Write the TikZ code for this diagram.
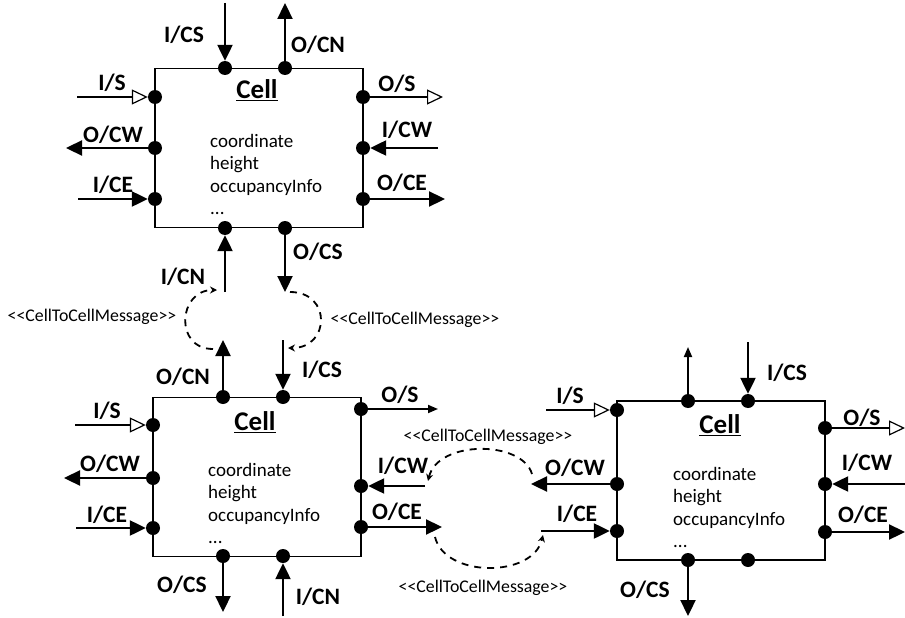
\documentclass[tikz,border=0pt]{standalone}
\usepackage{fontspec}
\setmainfont{Carlito}
\newfontfamily\msgfont{Carlito}
\usepackage{tikz}
\usetikzlibrary{arrows.meta}
\tikzset{
  cellbox/.style={draw, line width=1.2pt, minimum width=208pt, minimum height=159pt, inner sep=0},
  port/.style={circle, fill, inner sep=0, minimum size=14pt},
  plabel/.style={font=\fontsize{23.5}{26}\selectfont\bfseries, inner sep=0},
  ctitle/.style={font=\fontsize{27}{30}\selectfont\bfseries, inner sep=0},
  attrs/.style={font=\fontsize{19}{22.5}\selectfont, align=left, anchor=north west, inner sep=0},
  mlabel/.style={font=\msgfont\fontsize{17.8}{19}\selectfont, inner sep=0},
  arr/.style={line width=2.3pt, -{Triangle[length=16pt,width=15pt]}},
  oarr/.style={line width=1.8pt, -{Triangle[open,length=16pt,width=15pt,line width=1.2pt]}},
  sarr/.style={line width=1.8pt, -{Triangle[length=10pt,width=8pt]}},
  msg/.style={line width=1.8pt, dash pattern=on 7pt off 6pt, -{Stealth[length=7pt,width=7pt]}}
}
\begin{document}
\begin{tikzpicture}[x=1pt,y=-1pt]
   \useasboundingbox (0,0) rectangle (905,618);
   % upper cell
   \node[cellbox] (t) at (259,148) {};
   \node[ctitle] (tT) at (257,90) {\underline{Cell}};
   \node[attrs] (tA) at (210,134) {coordinate\\height\\occupancyInfo\\...};
   \node[port] (tN1) at (225,68) {};
   \node[port] (tN2) at (285,68) {};
   \node[port] (tW1) at (155,97) {};
   \node[port] (tW2) at (155,148) {};
   \node[port] (tW3) at (155,199) {};
   \node[port] (tE1) at (363,97) {};
   \node[port] (tE2) at (363,148) {};
   \node[port] (tE3) at (363,199) {};
   \node[port] (tS1) at (225,228) {};
   \node[port] (tS2) at (285,228) {};
   \coordinate (tN1x) at (225,3);
   \coordinate (tN2x) at (285,3);
   \coordinate (tW1x) at (77,97);
   \coordinate (tW2x) at (66,148);
   \coordinate (tW3x) at (78,199);
   \coordinate (tE1x) at (443,97);
   \coordinate (tE2x) at (438,148);
   \coordinate (tE3x) at (445,199);
   \coordinate (tS1x) at (225,292);
   \coordinate (tS2x) at (285,292);
   \draw[arr] (tN1x) -- (tN1);
   \draw[arr] (tN2) -- (tN2x);
   \draw[oarr] (tW1x) -- (tW1);
   \draw[arr] (tW2) -- (tW2x);
   \draw[arr] (tW3x) -- (tW3);
   \draw[oarr] (tE1) -- (tE1x);
   \draw[arr] (tE2x) -- (tE2);
   \draw[arr] (tE3) -- (tE3x);
   \draw[arr] (tS1x) -- (tS1);
   \draw[arr] (tS2) -- (tS2x);
   \node[plabel] (tLN1) at (184,35) {I/CS};
   \node[plabel] (tLN2) at (318,45) {O/CN};
   \node[plabel] (tLW1) at (112,83) {I/S};
   \node[plabel] (tLW2) at (113,135) {O/CW};
   \node[plabel] (tLW3) at (113,185) {I/CE};
   \node[plabel] (tLE1) at (397,84) {O/S};
   \node[plabel] (tLE2) at (407,130) {I/CW};
   \node[plabel] (tLE3) at (402,183) {O/CE};
   \node[plabel] (tLS1) at (183,277) {I/CN};
   \node[plabel] (tLS2) at (318,252) {O/CS};
   % lower left cell
   \node[cellbox] (l) at (257,477) {};
   \node[ctitle] (lT) at (255,422) {\underline{Cell}};
   \node[attrs] (lA) at (208,463) {coordinate\\height\\occupancyInfo\\...};
   \node[port] (lN1) at (223,397) {};
   \node[port] (lN2) at (283,397) {};
   \node[port] (lW1) at (153,425) {};
   \node[port] (lW2) at (153,478) {};
   \node[port] (lW3) at (153,528) {};
   \node[port] (lE1) at (361,409) {};
   \node[port] (lE2) at (361,486) {};
   \node[port] (lE3) at (361,527) {};
   \node[port] (lS1) at (223,556) {};
   \node[port] (lS2) at (283,556) {};
   \coordinate (lN1x) at (223,340);
   \coordinate (lN2x) at (283,340);
   \coordinate (lW1x) at (75,425);
   \coordinate (lW2x) at (64,478);
   \coordinate (lW3x) at (76,528);
   \coordinate (lE1x) at (438,409);
   \coordinate (lE2x) at (425,486);
   \coordinate (lE3x) at (442,527);
   \coordinate (lS1x) at (223,612);
   \coordinate (lS2x) at (283,616);
   \draw[arr] (lN1) -- (lN1x);
   \draw[arr] (lN2x) -- (lN2);
   \draw[oarr] (lW1x) -- (lW1);
   \draw[arr] (lW2) -- (lW2x);
   \draw[arr] (lW3x) -- (lW3);
   \draw[sarr] (lE1) -- (lE1x);
   \draw[arr] (lE2x) -- (lE2);
   \draw[arr] (lE3) -- (lE3x);
   \draw[arr] (lS1) -- (lS1x);
   \draw[arr] (lS2x) -- (lS2);
   \node[plabel] (lLN1) at (183,377) {O/CN};
   \node[plabel] (lLN2) at (322,370) {I/CS};
   \node[plabel] (lLW1) at (107,411) {I/S};
   \node[plabel] (lLW2) at (110,464) {O/CW};
   \node[plabel] (lLW3) at (107,515) {I/CE};
   \node[plabel] (lLE1) at (400,395) {O/S};
   \node[plabel] (lLE2) at (403,466) {I/CW};
   \node[plabel] (lLE3) at (397,512) {O/CE};
   \node[plabel] (lLS1) at (182,585) {O/CS};
   \node[plabel] (lLS2) at (318,597) {I/CN};
   % lower right cell
   \node[cellbox] (r) at (721,480.5) {};
   \node[ctitle] (rT) at (720,425) {\underline{Cell}};
   \node[attrs] (rA) at (673,467) {coordinate\\height\\occupancyInfo\\...};
   \node[port] (rN1) at (688,401) {};
   \node[port] (rN2) at (748,401) {};
   \node[port] (rW1) at (617,410) {};
   \node[port] (rW2) at (617,484) {};
   \node[port] (rW3) at (617,531) {};
   \node[port] (rE1) at (825,428) {};
   \node[port] (rE2) at (825,484) {};
   \node[port] (rE3) at (825,532) {};
   \node[port] (rS1) at (688,560) {};
   \node[port] (rS2) at (748,560) {};
   \coordinate (rN1x) at (688,347);
   \coordinate (rN2x) at (748,342);
   \coordinate (rW1x) at (546,410);
   \coordinate (rW2x) at (531,484);
   \coordinate (rW3x) at (541,531);
   \coordinate (rE1x) at (905,428);
   \coordinate (rE2x) at (905,484);
   \coordinate (rE3x) at (905,532);
   \coordinate (rS1x) at (688,616);
   \draw[sarr] (rN1) -- (rN1x);
   \draw[arr] (rN2x) -- (rN2);
   \draw[oarr] (rW1x) -- (rW1);
   \draw[arr] (rW2) -- (rW2x);
   \draw[arr] (rW3x) -- (rW3);
   \draw[oarr] (rE1) -- (rE1x);
   \draw[arr] (rE2x) -- (rE2);
   \draw[arr] (rE3) -- (rE3x);
   \draw[arr] (rS1) -- (rS1x);
   \node[plabel] (rLN2) at (787,373) {I/CS};
   \node[plabel] (rLW1) at (570,396) {I/S};
   \node[plabel] (rLW2) at (575,468) {O/CW};
   \node[plabel] (rLW3) at (577,514) {I/CE};
   \node[plabel] (rLE1) at (862,418) {O/S};
   \node[plabel] (rLE2) at (867,463) {I/CW};
   \node[plabel] (rLE3) at (863,515) {O/CE};
   \node[plabel] (rLS1) at (645,590) {O/CS};
   % messages
   \coordinate (m1a) at (213,349);
   \coordinate (m1b) at (217,290);
   \coordinate (m2a) at (290,292);
   \coordinate (m2b) at (288,348);
   \coordinate (m3a) at (532,474);
   \coordinate (m3b) at (428,481);
   \coordinate (m4a) at (435,537);
   \coordinate (m4b) at (543,535);
   \draw[msg] (m1a) .. controls (174,349) and (178,290) .. (m1b);
   \draw[msg] (m2a) .. controls (332,292) and (330,348) .. (m2b);
   \draw[msg] (m3a) .. controls (522,440) and (438,440) .. (m3b);
   \draw[msg] (m4a) .. controls (445,578) and (533,578) .. (m4b);
   \node[mlabel] (mL) at (92,317) {<<CellToCellMessage>>};
   \node[mlabel] (mR) at (415,320) {<<CellToCellMessage>>};
   \node[mlabel] (mT) at (488,437) {<<CellToCellMessage>>};
   \node[mlabel] (mB) at (483,588) {<<CellToCellMessage>>};
\end{tikzpicture}
\end{document}
